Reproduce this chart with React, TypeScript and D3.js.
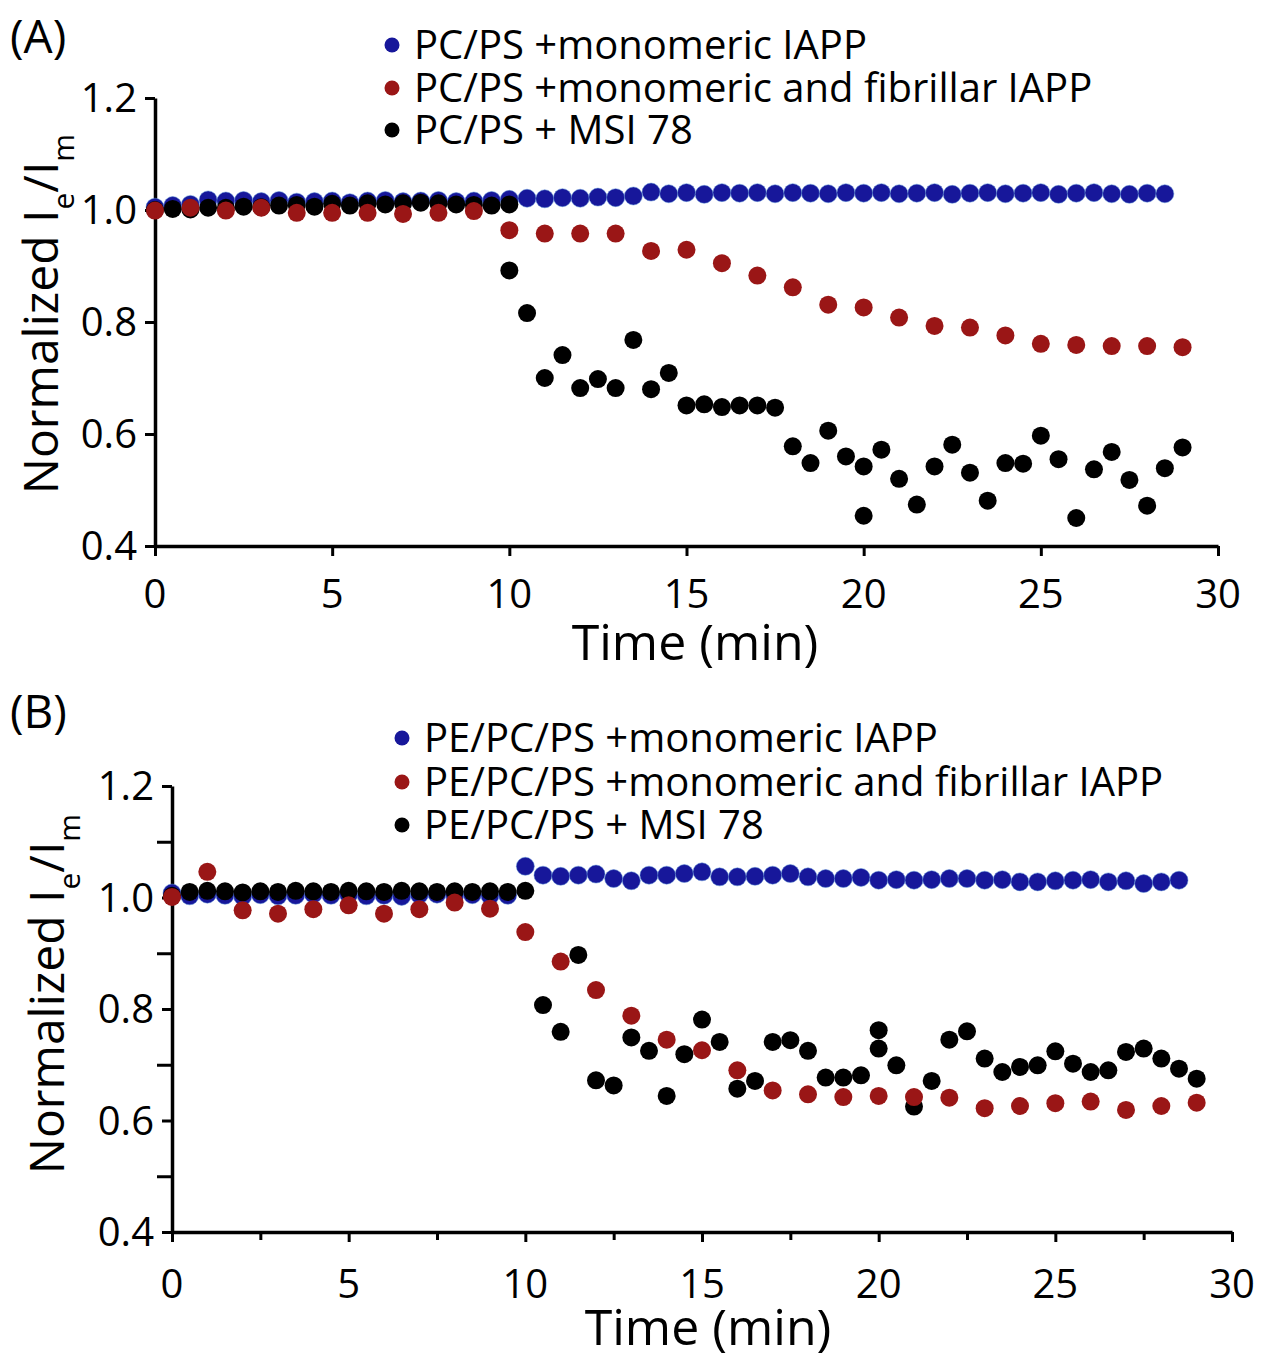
import React, { useEffect, useRef } from 'react'
import * as d3 from 'd3'

const FONT = '"Open Sans", "Noto Sans", sans-serif'
const BLUE = '#17179a'
const RED = '#9a1616'
const BLACK = '#000000'

const xTicks = [0, 5, 10, 15, 20, 25, 30]
const xMinorTicks = [2.5, 7.5, 12.5, 17.5, 22.5, 27.5]
const yTicks = [0.4, 0.6, 0.8, 1.0, 1.2]
const yMinorTicks = [0.5, 0.7, 0.9, 1.1]

// sampling times (min)
const halfMinuteTimes = [
  0, 0.5, 1, 1.5, 2, 2.5, 3, 3.5, 4, 4.5, 5, 5.5, 6, 6.5, 7, 7.5, 8, 8.5, 9, 9.5,
  10, 10.5, 11, 11.5, 12, 12.5, 13, 13.5, 14, 14.5, 15, 15.5, 16, 16.5, 17, 17.5, 18, 18.5, 19, 19.5,
  20, 20.5, 21, 21.5, 22, 22.5, 23, 23.5, 24, 24.5, 25, 25.5, 26, 26.5, 27, 27.5, 28, 28.5,
]
const minuteTimes = [
  0, 1, 2, 3, 4, 5, 6, 7, 8, 9, 10, 11, 12, 13, 14, 15, 16, 17, 18, 19,
  20, 21, 22, 23, 24, 25, 26, 27, 28, 29,
]

// (A) PC/PS
const legendA = ['PC/PS +monomeric IAPP', 'PC/PS +monomeric and fibrillar IAPP', 'PC/PS + MSI 78']
const blueA = [
  1.005, 1.008, 1.010, 1.018, 1.016, 1.017, 1.015, 1.017, 1.014, 1.015,
  1.016, 1.013, 1.016, 1.017, 1.015, 1.016, 1.017, 1.015, 1.016, 1.017,
  1.019, 1.021, 1.020, 1.022, 1.021, 1.023, 1.022, 1.025, 1.032, 1.029,
  1.031, 1.028, 1.031, 1.030, 1.031, 1.029, 1.031, 1.030, 1.029, 1.031,
  1.030, 1.031, 1.029, 1.030, 1.031, 1.028, 1.030, 1.031, 1.029, 1.030,
  1.031, 1.028, 1.030, 1.031, 1.029, 1.028, 1.030, 1.029,
]
const redA = [
  0.999, 1.004, 0.999, 1.004, 0.995, 0.995, 0.995, 0.993, 0.995, 0.998,
  0.964, 0.958, 0.958, 0.958, 0.927, 0.929, 0.905, 0.883, 0.862, 0.831,
  0.826, 0.808, 0.793, 0.790, 0.776, 0.761, 0.759, 0.757, 0.757, 0.755,
]
const blackTimesA = [
  0, 0.5, 1, 1.5, 2, 2.5, 3, 3.5, 4, 4.5, 5, 5.5, 6, 6.5, 7, 7.5, 8, 8.5, 9, 9.5, 10,
  10, 10.5, 11, 11.5, 12, 12.5, 13, 13.5, 14, 14.5, 15, 15.5, 16, 16.5, 17, 17.5, 18, 18.5, 19, 19.5, 20,
  20, 20.5, 21, 21.5, 22, 22.5, 23, 23.5, 24, 24.5, 25, 25.5, 26, 26.5, 27, 27.5, 28, 28.5, 29,
]
const blackA = [
  1.000, 1.002, 1.001, 1.004, 1.004, 1.006, 1.005, 1.008, 1.009, 1.006,
  1.011, 1.008, 1.012, 1.010, 1.012, 1.013, 1.012, 1.010, 1.009, 1.008, 1.010,
  0.892, 0.816, 0.700, 0.741, 0.682, 0.698, 0.682, 0.768, 0.680, 0.709,
  0.651, 0.653, 0.648, 0.651, 0.651, 0.647, 0.578, 0.548, 0.606, 0.560, 0.542,
  0.454, 0.572, 0.520, 0.474, 0.542, 0.581, 0.531, 0.481, 0.548, 0.547,
  0.597, 0.555, 0.450, 0.537, 0.568, 0.518, 0.472, 0.539, 0.576,
]

// (B) PE/PC/PS
const legendB = ['PE/PC/PS +monomeric IAPP', 'PE/PC/PS +monomeric and fibrillar IAPP', 'PE/PC/PS + MSI 78']
const blueB = [
  1.008, 1.003, 1.006, 1.004, 1.002, 1.005, 1.003, 1.004, 1.006, 1.004,
  1.005, 1.003, 1.004, 1.002, 1.005, 1.006, 1.004, 1.005, 1.003, 1.004,
  1.056, 1.040, 1.038, 1.040, 1.042, 1.034, 1.030,
  1.040, 1.040, 1.043, 1.046, 1.037, 1.037, 1.038, 1.040, 1.043, 1.037,
  1.034, 1.034, 1.036, 1.031, 1.032, 1.031, 1.032, 1.034, 1.034, 1.031,
  1.032, 1.028, 1.028, 1.030, 1.031, 1.032, 1.028, 1.030, 1.025, 1.028, 1.031,
]
const redB = [
  1.001, 1.046, 0.977, 0.971, 0.979, 0.986, 0.971, 0.979, 0.991, 0.980,
  0.938, 0.885, 0.834, 0.788, 0.745, 0.726, 0.690, 0.654, 0.647, 0.642,
  0.644, 0.642, 0.641, 0.622, 0.626, 0.631, 0.634, 0.619, 0.626, 0.632,
]
const blackTimesB = [
  0, 0.5, 1, 1.5, 2, 2.5, 3, 3.5, 4, 4.5, 5, 5.5, 6, 6.5, 7, 7.5, 8, 8.5, 9, 9.5, 10,
  10.5, 11, 11.5, 12, 12.5, 13, 13.5, 14, 14.5, 15, 15.5, 16, 16.5, 17, 17.5, 18, 18.5, 19, 19.5, 20,
  20, 20.5, 21, 21.5, 22, 22.5, 23, 23.5, 24, 24.5, 25, 25.5, 26, 26.5, 27, 27.5, 28, 28.5, 29,
]
const blackB = [
  1.003, 1.010, 1.012, 1.011, 1.009, 1.011, 1.010, 1.012, 1.011, 1.010,
  1.012, 1.011, 1.010, 1.012, 1.011, 1.010, 1.011, 1.010, 1.011, 1.010, 1.012,
  0.807, 0.759, 0.897, 0.672, 0.663, 0.749, 0.725, 0.644, 0.719, 0.781,
  0.741, 0.657, 0.671, 0.741, 0.744, 0.725, 0.677, 0.677, 0.681, 0.762,
  0.729, 0.699, 0.625, 0.671, 0.745, 0.760, 0.711, 0.687, 0.696, 0.699,
  0.724, 0.702, 0.687, 0.690, 0.723, 0.729, 0.711, 0.693, 0.675,
]

const panels = [
  {
    id: 'A', label: '(A)', labelX: 10, labelY: 53,
    left: 155, right: 1218, top: 98, bottom: 546,
    minor: false, tickLabelY: 608, titleX: 695, titleY: 660, yTitleX: 58, yTitleY: 314,
    legendX: 392, legendY: [45, 88, 130], legend: legendA,
    series: [
      { color: BLUE, t: halfMinuteTimes, v: blueA },
      { color: BLACK, t: blackTimesA, v: blackA },
      { color: RED, t: minuteTimes, v: redA },
    ],
  },
  {
    id: 'B', label: '(B)', labelX: 10, labelY: 728,
    left: 172, right: 1232, top: 786, bottom: 1232,
    minor: true, tickLabelY: 1298, titleX: 708, titleY: 1345, yTitleX: 64, yTitleY: 994,
    legendX: 402, legendY: [738, 782, 825], legend: legendB,
    series: [
      { color: BLUE, t: halfMinuteTimes, v: blueB },
      { color: BLACK, t: blackTimesB, v: blackB },
      { color: RED, t: minuteTimes, v: redB },
    ],
  },
]

const legendColors = [BLUE, RED, BLACK]

function drawPanel(svg, p) {
  const x = d3.scaleLinear().domain([0, 30]).range([p.left, p.right])
  const y = d3.scaleLinear().domain([0.4, 1.2]).range([p.bottom, p.top])
  const g = svg.append('g').attr('class', 'panel-' + p.id)

  // x axis
  const xAxis = g.append('g')
    .attr('transform', 'translate(0,' + p.bottom + ')')
    .call(d3.axisBottom(x).tickValues(xTicks).tickSize(10).tickSizeOuter(0).tickFormat(() => ''))
  if (p.minor) {
    g.append('g')
      .attr('transform', 'translate(0,' + p.bottom + ')')
      .call(d3.axisBottom(x).tickValues(xMinorTicks).tickSize(8).tickSizeOuter(0).tickFormat(() => ''))
      .call(s => s.select('.domain').remove())
  }
  // y axis
  g.append('g')
    .attr('transform', 'translate(' + p.left + ',0)')
    .call(d3.axisLeft(y).tickValues(yTicks).tickSize(10).tickSizeOuter(0).tickFormat(() => ''))
  if (p.minor) {
    g.append('g')
      .attr('transform', 'translate(' + p.left + ',0)')
      .call(d3.axisLeft(y).tickValues(yMinorTicks).tickSize(15).tickSizeOuter(0).tickFormat(() => ''))
      .call(s => s.select('.domain').remove())
  }
  g.selectAll('.domain').attr('stroke', '#000').attr('stroke-width', 3.5)
  g.selectAll('.tick line').attr('stroke', '#000').attr('stroke-width', 3)
  xAxis.raise()

  // tick labels
  g.append('g').selectAll('text').data(xTicks).join('text')
    .attr('x', d => x(d)).attr('y', p.tickLabelY)
    .attr('text-anchor', 'middle')
    .attr('font-family', FONT).attr('font-size', 40)
    .text(d => d)
  g.append('g').selectAll('text').data(yTicks).join('text')
    .attr('x', p.left - 18).attr('y', d => y(d))
    .attr('dy', '0.36em')
    .attr('text-anchor', 'end')
    .attr('font-family', FONT).attr('font-size', 40)
    .text(d => d3.format('.1f')(d))

  // axis titles
  g.append('text')
    .attr('x', p.titleX).attr('y', p.titleY)
    .attr('text-anchor', 'middle')
    .attr('font-family', FONT).attr('font-size', 50)
    .text('Time (min)')
  const yt = g.append('text')
    .attr('transform', 'translate(' + p.yTitleX + ',' + p.yTitleY + ') rotate(-90)')
    .attr('text-anchor', 'middle')
    .attr('font-family', FONT).attr('font-size', 48)
  yt.append('tspan').text('Normalized I')
  yt.append('tspan').attr('font-size', 30).attr('dy', 16).text('e')
  yt.append('tspan').attr('dy', -16).text('/I')
  yt.append('tspan').attr('font-size', 30).attr('dy', 16).text('m')

  // panel label
  g.append('text')
    .attr('x', p.labelX).attr('y', p.labelY)
    .attr('font-family', FONT).attr('font-size', 46)
    .text(p.label)

  // points
  p.series.forEach(s => {
    g.append('g').selectAll('circle').data(s.v).join('circle')
      .attr('cx', (d, i) => x(s.t[i]))
      .attr('cy', d => y(d))
      .attr('r', 9)
      .attr('fill', s.color)
      .attr('stroke', s.color === BLUE ? '#5b8fd6' : 'none')
      .attr('stroke-opacity', 0.5)
      .attr('stroke-width', 1)
  })

  // legend
  const lg = g.append('g')
  p.legend.forEach((name, i) => {
    lg.append('circle')
      .attr('cx', p.legendX).attr('cy', p.legendY[i]).attr('r', 7.5)
      .attr('fill', legendColors[i])
    lg.append('text')
      .attr('x', p.legendX + 22).attr('y', p.legendY[i] + 14)
      .attr('font-family', FONT).attr('font-size', 40)
      .text(name)
  })
}

export default function App() {
  const ref = useRef(null)
  useEffect(() => {
    document.body.style.margin = '0'
    const svg = d3.select(ref.current)
    svg.selectAll('*').remove()
    panels.forEach(p => drawPanel(svg, p))
  }, [])
  return (
    <svg ref={ref} width={1261} height={1359} style={{ display: 'block', background: '#fff' }} />
  )
}
